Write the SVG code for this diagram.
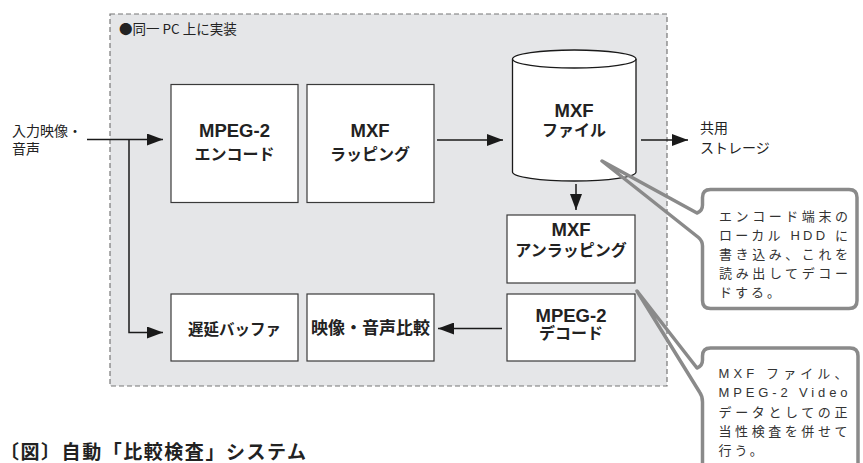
<svg xmlns="http://www.w3.org/2000/svg" width="863" height="463" viewBox="0 0 863 463">
<defs>
<style>
.t{font-family:"Liberation Sans","Noto Sans CJK JP",sans-serif;fill:#222}
.j{font-family:"Noto Sans CJK JP",sans-serif}
.b{font-weight:700;text-anchor:middle}
.lbl{font-size:14px}
.box{fill:#fff;stroke:#3a3a3a;stroke-width:1.2}
.ln{stroke:#1a1a1a;stroke-width:1.5;fill:none}
.co{fill:none;stroke:#8a8a8a;stroke-width:3.5;stroke-linejoin:round}
.ct{font-size:13px;fill:#333}
</style>
<marker id="ah" viewBox="0 0 16 12" refX="16" refY="6" markerWidth="16" markerHeight="12" markerUnits="userSpaceOnUse" orient="auto">
<path d="M0,0 L16,6 L0,12 Z" fill="#1a1a1a"/>
</marker>
</defs>
<rect width="863" height="463" fill="#fff"/>

<g id="pc-area">
<rect x="110" y="14" width="557" height="372" fill="#e5e6e8" stroke="#777" stroke-width="1.2" stroke-dasharray="5,3"/>
<text class="t j" x="119" y="34" font-size="13.5">●同一 PC 上に実装</text>
</g>

<g id="input-label">
<text class="t lbl" x="12" y="136">入力映像・</text>
<text class="t lbl" x="12" y="153.5">音声</text>
</g>

<g id="encoder">
<rect class="box" x="171" y="84.5" width="127" height="118"/>
<text class="t b" x="234.5" y="137" font-size="18.5">MPEG-2</text>
<text class="t b" x="234.5" y="160" font-size="16">エンコード</text>
</g>

<g id="wrapping">
<rect class="box" x="307" y="84.5" width="127" height="118"/>
<text class="t b" x="370" y="137" font-size="18.5">MXF</text>
<text class="t b" x="370" y="160" font-size="16">ラッピング</text>
</g>

<g id="mxf-file">
<path d="M512.5,59 V172 A61.7,9 0 0 0 636,172 V59 A61.7,9 0 0 0 512.5,59 Z" fill="#fff" stroke="#1a1a1a" stroke-width="1.3"/>
<path d="M512.5,59 A61.7,9 0 0 0 636,59" fill="none" stroke="#1a1a1a" stroke-width="1.3"/>
<text class="t b" x="574" y="116.5" font-size="18.5">MXF</text>
<text class="t b" x="574" y="135.5" font-size="16">ファイル</text>
</g>

<g id="storage-label">
<text class="t lbl" x="700" y="133">共用</text>
<text class="t lbl" x="700" y="153">ストレージ</text>
</g>

<g id="unwrapping">
<rect class="box" x="507" y="215" width="128" height="68"/>
<text class="t b" x="571" y="236" font-size="18.5">MXF</text>
<text class="t b" x="571" y="256" font-size="16">アンラッピング</text>
</g>

<g id="decoder">
<rect class="box" x="507" y="294" width="128" height="67"/>
<text class="t b" x="571" y="322" font-size="18.5">MPEG-2</text>
<text class="t b" x="571" y="339" font-size="16">デコード</text>
</g>

<g id="delay-buffer">
<rect class="box" x="171" y="294" width="127" height="67"/>
<text class="t b" x="234.5" y="335" font-size="15.5">遅延バッファ</text>
</g>

<g id="compare">
<rect class="box" x="307" y="294" width="127" height="67"/>
<text class="t b" x="370.5" y="334" font-size="17" textLength="119" lengthAdjust="spacingAndGlyphs">映像・音声比較</text>
</g>

<g id="connectors">
<path class="ln" d="M87,139.5 H163" marker-end="url(#ah)"/>
<path class="ln" d="M129,139.5 V332.5 H163" marker-end="url(#ah)"/>
<path class="ln" d="M437,140 H503" marker-end="url(#ah)"/>
<path class="ln" d="M641,140 H688" marker-end="url(#ah)"/>
<path class="ln" d="M576,184 V210" marker-end="url(#ah)"/>
<path class="ln" d="M502,328.5 H438" marker-end="url(#ah)"/>
</g>

<g id="callout-hdd">
<path class="co" d="M710.5,189.5 H849 Q857,189.5 857,197.5 V300.5 Q857,308.5 849,308.5 H710.5 Q702.5,308.5 702.5,300.5 V246 Q702.5,241 698.5,237.5 L602,161 L697,213 Q702.5,211 702.5,205 V197.5 Q702.5,189.5 710.5,189.5 Z"/>
<text class="t ct" x="719" y="221" textLength="129" lengthAdjust="spacing">エンコード端末の</text>
<text class="t ct" x="719" y="240" textLength="129" lengthAdjust="spacing">ローカル HDD に</text>
<text class="t ct" x="719" y="259" textLength="129" lengthAdjust="spacing">書き込み、これを</text>
<text class="t ct" x="719" y="278" textLength="129" lengthAdjust="spacing">読み出してデコー</text>
<text class="t ct" x="719" y="297" letter-spacing="3">ドする。</text>
</g>

<g id="callout-check">
<path class="co" d="M710.5,348 H850 Q858,348 858,356 V475 H702.5 V402 Q702.5,396 699.5,392 L637,291 L697,368 Q702.5,366 702.5,360 V356 Q702.5,348 710.5,348 Z"/>
<text class="t ct" x="718.5" y="378" textLength="129" lengthAdjust="spacing">MXF ファイル、</text>
<text class="t ct" x="718.5" y="397" textLength="129" lengthAdjust="spacing">MPEG-2 Video</text>
<text class="t ct" x="718.5" y="416.5" textLength="129" lengthAdjust="spacing">データとしての正</text>
<text class="t ct" x="718.5" y="436" textLength="129" lengthAdjust="spacing">当性検査を併せて</text>
<text class="t ct" x="718.5" y="455" letter-spacing="3">行う。</text>
</g>

<g id="title">
<text class="t j" x="0" y="459" font-size="19" font-weight="700" textLength="306" lengthAdjust="spacing">〔図〕自動「比較検査」システム</text>
</g>
</svg>
